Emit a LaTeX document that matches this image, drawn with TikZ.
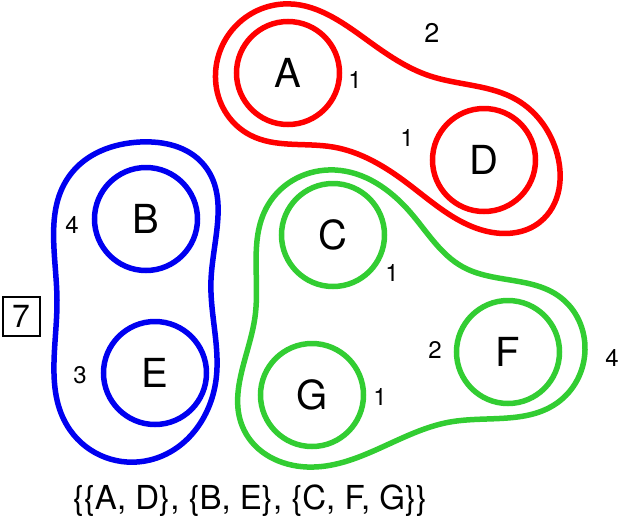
\documentclass[tikz,border=0pt]{standalone}
\usepackage{fontspec}
\setmainfont{TeX Gyre Heros}
\usetikzlibrary{positioning, hobby}

\definecolor{setred}{RGB}{255,0,0}
\definecolor{setblue}{RGB}{0,0,240}
\definecolor{setgreen}{RGB}{50,205,50}

\tikzset{
  elem/.style={circle, draw, line width=5.5pt, minimum size=103pt, inner sep=0pt,
    font=\fontsize{40}{40}\selectfont},
  hull/.style={line width=5.5pt},
  wt/.style={inner sep=0pt, font=\fontsize{24}{24}\selectfont},
}

\begin{document}
\begin{tikzpicture}[x=1pt, y=-1pt]
\useasboundingbox (0,0) rectangle (625,528);
% cluster {A, D}
\node[elem, draw=setred] (A) at (288,73) {A};
\node[elem, draw=setred] (D) at (484,160) {D};
\draw[hull, setred] plot[closed hobby] coordinates {(283,4) (367,40) (430,76) (517,100)
  (556,150) (540,222) (490,232) (407,183) (333,147) (250,135) (216,85)};
\node[wt] (wA) at (355,80) {1};
\node[wt] (wD) at (407,138) {1};
\node[wt, font=\fontsize{27}{27}\selectfont] (wAD) at (432,33) {2};
% cluster {B, E}
\node[elem, draw=setblue] (B) at (146,219) {B};
\node[elem, draw=setblue] (E) at (155,373) {E};
\draw[hull, setblue] plot[closed hobby] coordinates {(140,142) (204,165) (211,280)
  (216,380) (150,460) (70,430) (57,300) (70,175)};
\node[wt] (wB) at (72,225) {4};
\node[wt] (wE) at (80,375) {3};
% cluster {C, F, G}
\node[elem, draw=setgreen] (C) at (333,235) {C};
\node[elem, draw=setgreen] (F) at (508,352) {F};
\node[elem, draw=setgreen] (G) at (312,395) {G};
\draw[hull, setgreen] plot[closed hobby] coordinates {(335,170) (410,212) (463,267)
  (560,297) (585,350) (557,403) (450,422) (307,467) (244,430) (255,317) (268,205)};
\node[wt] (wC) at (392,273) {1};
\node[wt] (wG) at (380,397) {1};
\node[wt] (wF) at (435,350) {2};
\node[wt] (wCFG) at (612,358) {4};
% total
\node[draw, line width=2pt, minimum width=37pt, minimum height=39pt, inner sep=0pt,
  font=\fontsize{32}{32}\selectfont] (total) at (21,316) {7};
\node[font=\fontsize{33}{33}\selectfont] (part) at (250,501) {\{\{A, D\}, \{B, E\}, \{C, F, G\}\}};
\end{tikzpicture}
\end{document}
